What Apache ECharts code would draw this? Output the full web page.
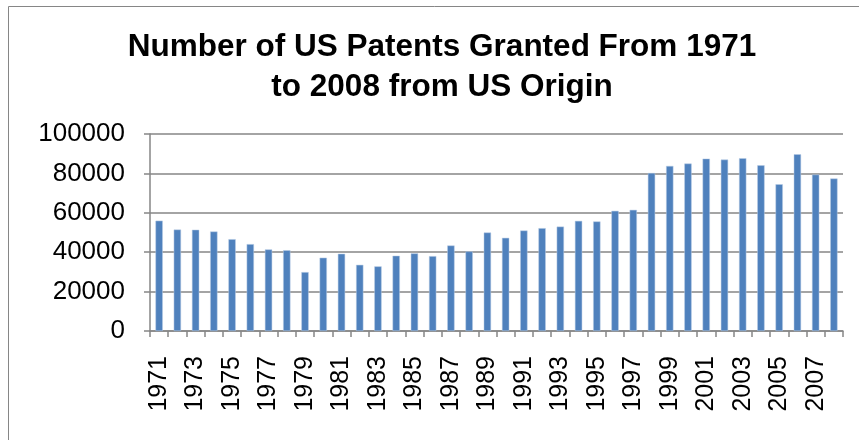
<!DOCTYPE html>
<html><head><meta charset="utf-8">
<script src="https://cdn.jsdelivr.net/npm/echarts@6/dist/echarts.min.js"></script>
<style>html,body{margin:0;padding:0;background:#fff}#c{width:859px;height:440px}</style>
</head><body><div id="c"></div>
<script>
const years = ['1971','1972','1973','1974','1975','1976','1977','1978','1979','1980','1981','1982','1983','1984','1985','1986','1987','1988','1989','1990','1991','1992','1993','1994','1995','1996','1997','1998','1999','2000','2001','2002','2003','2004','2005','2006','2007','2008'];
const patents = [56000,51500,51400,50500,46600,44100,41400,41000,29900,37200,39200,33600,32800,38200,39400,38000,43400,40400,50000,47300,51000,52200,53000,55900,55600,61000,61500,80200,83800,85000,87500,87000,87700,84100,74500,89700,79400,77400];
const yTicks = {min:0, max:100000, interval:20000};
const titleText = 'Number of US Patents Granted From 1971\nto 2008 from US Origin';

const chart = echarts.init(document.getElementById('c'));
chart.setOption({
  animation:false,
  backgroundColor:'#fff',
  graphic:[{type:'rect',shape:{x:8.5,y:6.5,width:900,height:500},style:{fill:'none',stroke:'#868686',lineWidth:1}}],
  title:{text:titleText,left:437,textAlign:'center',top:22,textStyle:{fontFamily:'Liberation Sans',fontWeight:'bold',fontSize:31.5,lineHeight:40,color:'#000'}},
  grid:{left:150,right:16,top:134,bottom:109},
  xAxis:{type:'category',data:years,boundaryGap:true,
    axisLine:{lineStyle:{color:'#868686',width:1.5}},
    axisTick:{show:true,alignWithLabel:false,interval:0,length:6,lineStyle:{color:'#868686',width:1.5}},
    axisLabel:{interval:1,rotate:90,margin:25,fontFamily:'Liberation Sans',fontSize:25,color:'#000'}},
  yAxis:{type:'value',min:yTicks.min,max:yTicks.max,interval:yTicks.interval,
    axisLine:{show:true,lineStyle:{color:'#868686',width:1.5}},
    axisTick:{show:true,length:6,lineStyle:{color:'#868686',width:1.5}},
    splitLine:{lineStyle:{color:'#868686',width:1.5}},
    axisLabel:{margin:25,fontFamily:'Liberation Sans',fontSize:26,color:'#000',formatter:function(v){return String(v);}}},
  series:[{type:'bar',data:patents,barWidth:'40%',itemStyle:{color:'#4F81BD',borderColor:'#B9CDE5',borderWidth:0.5}}]
});
</script></body></html>
